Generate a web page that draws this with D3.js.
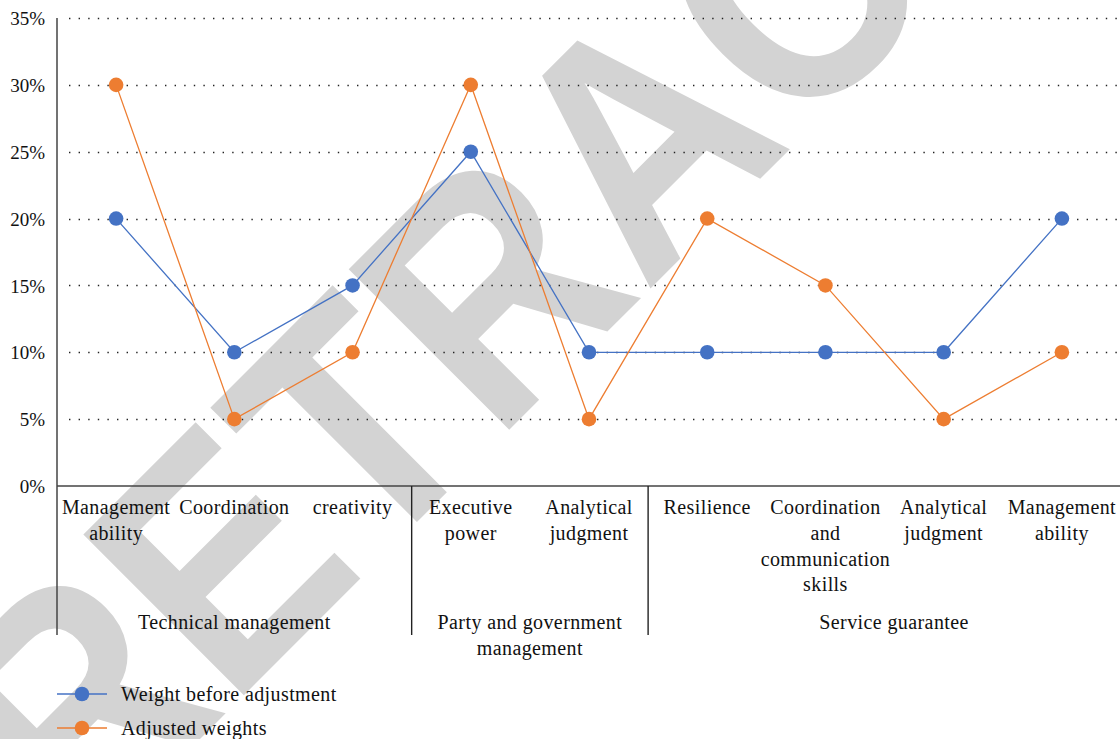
<!DOCTYPE html>
<html>
<head>
<meta charset="utf-8">
<script src="https://cdn.jsdelivr.net/npm/d3@7"></script>
<style>
  html, body { margin: 0; padding: 0; background: #fff; }
  svg { display: block; }
</style>
</head>
<body>
<svg id="chart" width="1120" height="739"></svg>
<script>
// ---- data ----
const categories = [
  "Management ability", "Coordination", "creativity",
  "Executive power", "Analytical judgment",
  "Resilience", "Coordination and communication skills", "Analytical judgment", "Management ability"
];
const groups = ["Technical management", "Party and government management", "Service guarantee"];
const groupSizes = [3, 2, 4];
const weightBefore = [0.20, 0.10, 0.15, 0.25, 0.10, 0.10, 0.10, 0.10, 0.20];
const adjustedWeights = [0.30, 0.05, 0.10, 0.30, 0.05, 0.20, 0.15, 0.05, 0.10];
const seriesNames = ["Weight before adjustment", "Adjusted weights"];
const yTicks = [0, 0.05, 0.10, 0.15, 0.20, 0.25, 0.30, 0.35];
const watermarkText = "RETRACTED";

// ---- layout ----
const svg = d3.select("#chart");
const W = 1120, H = 739;
const plotL = 57, plotR = 1121, plotT = 18, plotB = 486;
const serif = "'Liberation Serif', 'Times New Roman', serif";
const colors = ["#4472C4", "#ED7D31"];

// watermark (behind everything)
svg.append("text")
  .attr("transform", "translate(80,859) rotate(-45) scale(0.89,1)")
  .attr("font-family", "'Liberation Sans', Arial, sans-serif")
  .attr("font-weight", "bold")
  .attr("font-size", 330)
  .attr("fill", "#d3d3d3")
  .text(watermarkText);

const x = d3.scaleBand().domain(d3.range(categories.length)).range([plotL, plotR]).padding(0);
const y = d3.scaleLinear().domain([0, 0.35]).range([plotB, plotT]);
const cx = i => x(i) + x.bandwidth() / 2;

// gridlines
svg.append("g").selectAll("line")
  .data(yTicks.filter(t => t > 0))
  .join("line")
  .attr("x1", plotL + 12).attr("x2", W)
  .attr("y1", d => Math.round(y(d)) + 0.5).attr("y2", d => Math.round(y(d)) + 0.5)
  .attr("stroke", "#222")
  .attr("stroke-width", 1.4)
  .attr("stroke-dasharray", "1.4,8.2");

// y axis with tick labels
const yAxis = d3.axisLeft(y).tickValues(yTicks).tickFormat(d3.format(".0%")).tickSize(0).tickPadding(12);
const gy = svg.append("g").attr("transform", `translate(${plotL},0)`).call(yAxis);
gy.select(".domain").remove();
gy.selectAll("text").attr("font-family", serif).attr("font-size", 19).attr("fill", "#111").attr("dy", "0.35em");

// axis lines
svg.append("line").attr("x1", plotL).attr("x2", plotL).attr("y1", plotT).attr("y2", 635)
  .attr("stroke", "#444").attr("stroke-width", 1.5);
svg.append("line").attr("x1", plotL).attr("x2", W).attr("y1", plotB).attr("y2", plotB)
  .attr("stroke", "#444").attr("stroke-width", 1.6);

// group dividers
let acc = 0;
const groupBounds = groupSizes.map(n => { const s = acc; acc += n; return [s, acc]; });
groupBounds.slice(1).forEach(([s]) => {
  svg.append("line").attr("x1", x(s)).attr("x2", x(s)).attr("y1", plotB).attr("y2", 635)
    .attr("stroke", "#222").attr("stroke-width", 1.4);
});

// wrap helper
function wrapLines(text, maxW, size) {
  const ctx = document.createElement("canvas").getContext("2d");
  ctx.font = `${size}px ${serif}`;
  const words = text.split(" ");
  const lines = [];
  let cur = "";
  words.forEach(w => {
    const t = cur ? cur + " " + w : w;
    if (cur && ctx.measureText(t).width > maxW) { lines.push(cur); cur = w; }
    else cur = t;
  });
  if (cur) lines.push(cur);
  return lines;
}

// category labels
const catG = svg.append("g");
categories.forEach((c, i) => {
  const lines = wrapLines(c, 112, 20);
  const t = catG.append("text")
    .attr("x", cx(i)).attr("y", 514)
    .attr("text-anchor", "middle")
    .attr("font-family", serif).attr("font-size", 20).attr("fill", "#111")
    .attr("letter-spacing", 0.4);
  lines.forEach((l, k) => t.append("tspan").attr("x", cx(i)).attr("dy", k ? 25.8 : 0).text(l));
});

// group labels
groups.forEach((g, gi) => {
  const [s, e] = groupBounds[gi];
  const x0 = x(s), x1 = gi === groups.length - 1 ? plotR + 19 : x(e);
  const lines = wrapLines(g, (x1 - x0) - 20, 20);
  const t = svg.append("text")
    .attr("x", (x0 + x1) / 2).attr("y", 629)
    .attr("text-anchor", "middle")
    .attr("font-family", serif).attr("font-size", 20).attr("fill", "#111")
    .attr("letter-spacing", 0.4);
  lines.forEach((l, k) => t.append("tspan").attr("x", (x0 + x1) / 2).attr("dy", k ? 25.8 : 0).text(l));
});

// series
const series = [weightBefore, adjustedWeights];
const line = d3.line().x((d, i) => cx(i)).y(d => y(d));
series.forEach((s, si) => {
  svg.append("path").datum(s).attr("d", line)
    .attr("fill", "none").attr("stroke", colors[si]).attr("stroke-width", 1.3);
});
series.forEach((s, si) => {
  svg.append("g").selectAll("circle").data(s).join("circle")
    .attr("cx", (d, i) => cx(i)).attr("cy", d => y(d)).attr("r", 7.3)
    .attr("fill", colors[si]);
});

// legend
seriesNames.forEach((n, i) => {
  const ly = 694 + i * 34;
  svg.append("line").attr("x1", 57).attr("x2", 107).attr("y1", ly).attr("y2", ly)
    .attr("stroke", colors[i]).attr("stroke-width", 1.3);
  svg.append("circle").attr("cx", 82).attr("cy", ly).attr("r", 7.3).attr("fill", colors[i]);
  svg.append("text").attr("x", 121).attr("y", ly + 7)
    .attr("font-family", serif).attr("font-size", 20).attr("fill", "#111")
    .attr("letter-spacing", 0.4).text(n);
});
</script>
</body>
</html>
